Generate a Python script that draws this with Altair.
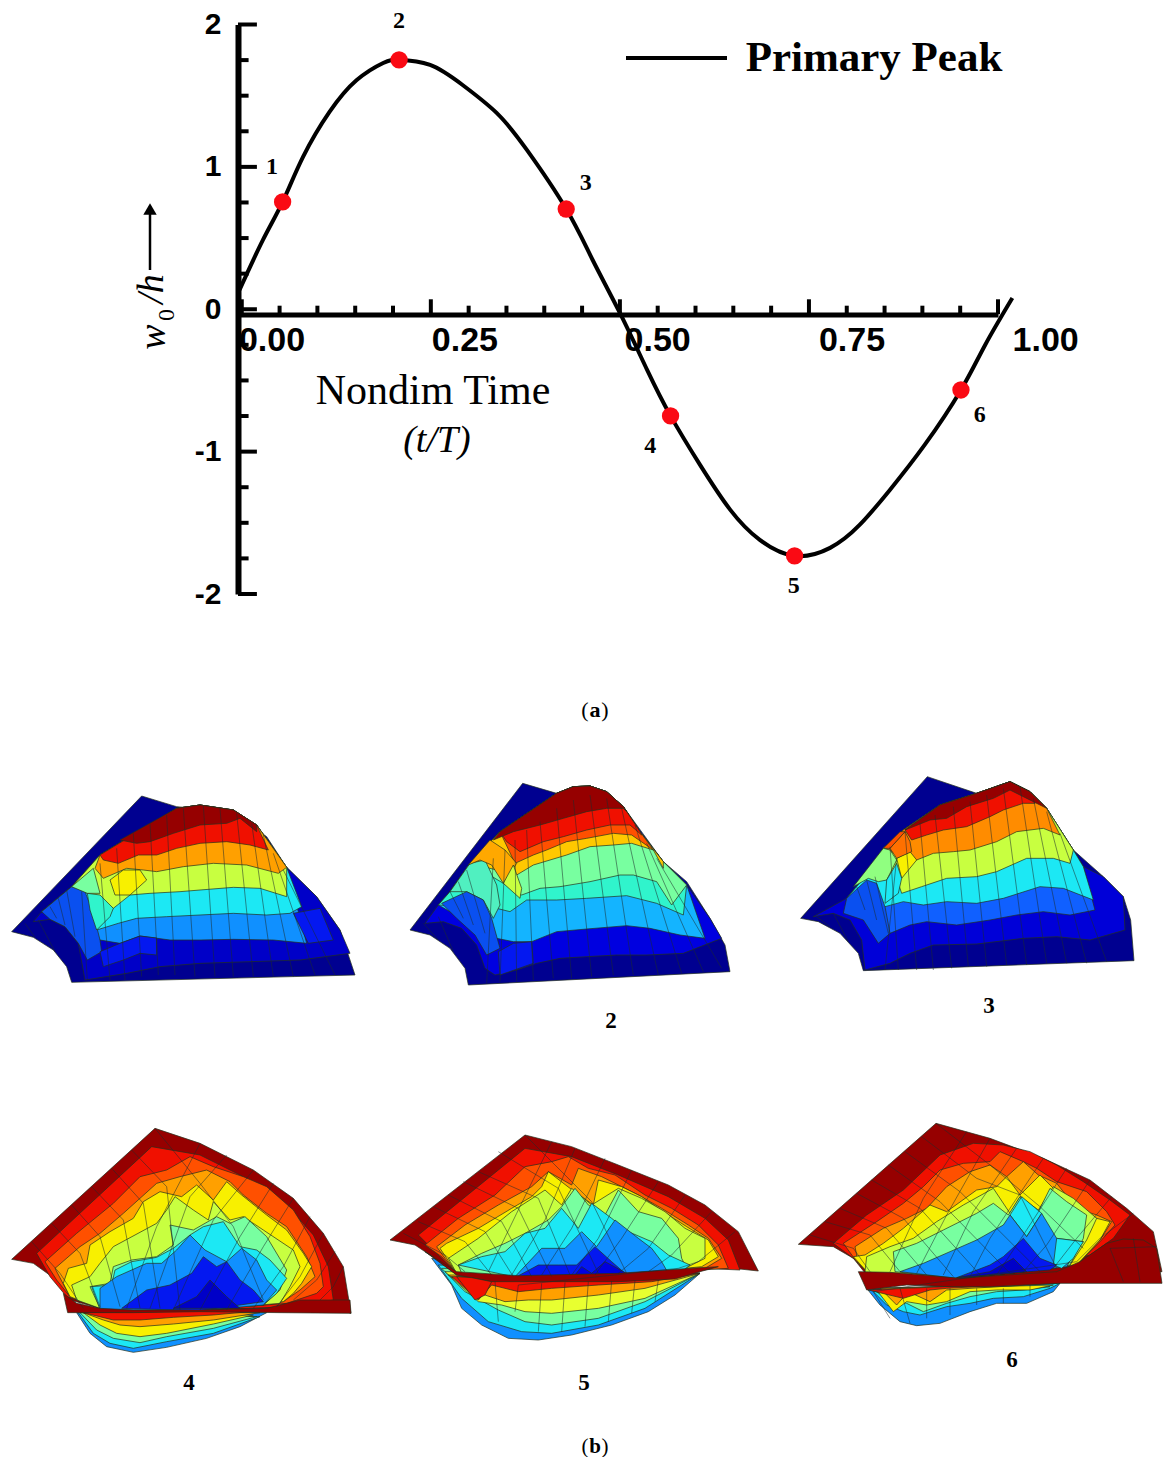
import altair as alt
import pandas as pd

# ---------- line plot values ----------
CURVE_T = [-0.003,0.028,0.054,0.081,0.116,0.152,0.187,0.208,0.249,0.292,0.337,0.377,0.429,0.464,0.5,0.536,0.567,0.606,0.646,0.685,0.731,0.778,0.817,0.857,0.903,0.951,0.983,1.019]
CURVE_W = [0.136,0.487,0.754,1.07,1.386,1.61,1.73,1.751,1.716,1.575,1.379,1.119,0.704,0.346,-0.026,-0.426,-0.749,-1.093,-1.409,-1.62,-1.732,-1.676,-1.515,-1.269,-0.953,-0.567,-0.251,0.079]
MARK_T = [0.054,0.208,0.429,0.567,0.731,0.951]
MARK_W = [0.754,1.751,0.704,-0.749,-1.732,-0.567]
MARK_ID = ["1","2","3","4","5","6"]
ID_T = [0.04,0.208,0.455,0.54,0.73,0.976]
ID_W = [1.0,2.025,0.887,-0.96,-1.943,-0.742]
X_TICKS = [0,0.25,0.5,0.75,1.0]
X_LABEL_TEXT = ["0.00","0.25","0.50","0.75","1.00"]
X_LABEL_T = [0.04,0.295,0.55,0.807,1.063]
X_LABEL_W = [-0.223,-0.223,-0.223,-0.223,-0.223]
X_MINOR = [0.05,0.1,0.15,0.2,0.3,0.35,0.4,0.45,0.55,0.6,0.65,0.7,0.8,0.85,0.9,0.95]
Y_LABELS = [-2,-1,0,1,2]
Y_MINOR = [-1.75,-1.5,-1.25,-0.75,-0.5,-0.25,0.25,0.5,0.75,1.25,1.5,1.75]

# ---------- surface colours ----------
NV,DB,B,A,C,T,G,L,Y,O,OR,R,DR = "#000090","#0000c8","#0418f0","#1090ff","#1ce8f4","#30f4cc","#78ffa0","#c8ff40","#f8f000","#ffa000","#ff5000","#f01000","#960000"

# surfaces are read in 3x crop units; the crop origin is given per panel
P1 = dict(origin=(0,780),
 sil=[35,455,425,48,530,80,700,95,800,170,860,262,950,350,1020,450,1065,585,215,607,200,560,160,510,100,472],
 ridge=[860,262,770,135,700,90,600,75,530,85,300,225,215,320,125,395],
 under=[(DB,[860,262,950,350,1020,450,1050,520,900,540,750,545,600,550,480,560,380,580,255,600,235,490,195,440,150,418,100,425,125,395,215,320,300,225,530,85,600,75,700,90,770,135])],
 bands=[(A,[300,480,360,490,420,468,510,480,600,480,700,478,820,480,920,490]),
  (C,[290,450,355,430,410,415,500,410,600,405,700,400,800,405,870,400,905,380]),
  (L,[262,340,340,385,390,345,450,340,540,335,600,330,700,322,780,325,860,350]),
  (O,[285,265,310,295,380,265,430,270,470,275,550,260,640,250,740,255,835,280]),
  (R,[310,240,355,250,415,225,470,225,530,205,600,190,680,185,750,195,805,210]),
  (DR,[360,180,410,190,450,185,520,160,600,135,680,130,720,115,770,155])],
 patches=[("#0a50f0",[125,395,215,320,255,335,280,400,300,480,305,515,262,540,235,490,195,440,150,418]),
  (Y,[330,300,345,345,390,345,440,300,420,270,370,270]),
  (T,[262,340,300,345,340,385,330,410,290,450,270,390]),
  (G,[215,320,280,265,300,340,262,340]),
  (B,[300,515,360,490,420,468,470,474,470,525,420,520,370,540,310,560]),
  (B,[880,400,960,385,1000,480,925,490])],
 mesh=[245,335,262,600, 300,250,330,600, 350,205,375,600, 400,160,425,590, 450,130,475,585, 500,105,525,585, 550,85,585,590,
  610,78,645,590, 660,85,700,590, 710,100,760,590, 755,130,820,590, 790,165,880,590, 820,220,945,585, 850,270,1005,585],
 wall=[150,380,170,415, 175,355,195,435, 200,330,225,470, 75,430,105,472, 115,420,165,515])

P2 = dict(origin=(400,775),
 sil=[30,465,368,25,470,55,520,35,570,33,620,50,670,95,720,170,790,260,860,320,930,430,975,510,990,590,205,630,195,580,150,520,90,480],
 ridge=[860,330,790,260,720,170,670,95,620,50,570,33,520,35,470,55,300,170,210,265,150,350,115,390],
 under=[("#0000e0",[860,330,930,430,965,490,850,535,740,540,650,540,560,545,480,550,410,565,350,585,285,600,255,580,230,510,185,460,130,440,75,445,115,390,150,350,210,265,300,170,470,55,570,33,670,95,790,260])],
 bands=[("#14b4ff",[290,490,340,500,395,500,470,470,560,462,680,452,750,460,840,480,915,490]),
  (T,[290,400,330,410,380,375,470,375,560,370,680,362,770,385,850,420]),
  (G,[310,325,365,360,420,340,480,335,570,320,660,300,700,300,770,320,815,390]),
  ("#ffc800",[350,300,400,270,450,255,500,240,570,215,640,210,695,205,760,225,790,280]),
  (OR,[345,265,400,240,440,225,500,200,560,190,640,175,695,180,760,225]),
  (R,[320,200,360,230,430,200,490,185,560,165,630,150,690,150,725,180]),
  (DR,[280,195,340,170,420,150,490,130,560,110,620,100,670,100,680,110])],
 patches=[("#50f0c0",[150,350,210,265,255,255,290,330,300,390,280,430,250,375,200,350]),
  ("#ffa800",[205,270,270,195,315,225,350,265,310,325,275,270,240,255]),
  (L,[310,325,340,270,365,340,360,370]),
  ("#0a50f0",[125,385,200,350,250,375,275,430,300,520,260,540,225,480,170,430]),
  (B,[295,530,340,505,395,500,400,565,300,600])],
 mesh=[420,140,460,610, 470,100,515,610, 520,75,575,605, 570,60,640,600, 620,70,700,600, 665,100,775,600, 705,150,845,595, 740,205,910,590, 770,250,965,580,
  380,165,400,615, 345,195,350,620, 315,225,300,620, 280,250,260,625],
 wall=[150,350,190,430, 175,320,220,450, 200,285,255,475, 70,445,115,495, 115,425,160,530])

P3 = dict(origin=(790,770),
 sil=[32,445,412,20,560,70,660,35,720,65,770,115,850,240,940,320,1000,380,1022,450,1032,572,220,602,205,550,150,490,85,455],
 ridge=[880,290,850,240,770,115,720,65,660,35,560,70,450,105,340,180,280,235,225,320,170,385],
 under=[("#0000d8",[880,290,940,320,1000,380,1005,480,900,510,800,500,700,505,560,522,430,525,360,550,300,580,225,600,215,510,180,450,130,430,70,440,170,385,225,320,280,235,340,180,450,105,560,70,660,35,720,65,770,115,850,240])],
 bands=[("#1060ff",[285,465,300,490,360,465,410,455,500,465,600,450,680,435,760,425,840,435,915,420]),
  (C,[285,410,340,395,400,405,470,395,560,400,640,385,750,350,820,355,910,390]),
  (L,[320,325,335,370,395,350,470,325,560,320,620,305,710,265,790,265,840,280]),
  ("#ff8c00",[365,270,380,270,430,250,490,245,540,240,620,215,680,185,760,175,810,195]),
  (R,[345,180,365,210,410,195,460,180,530,170,600,140,640,120,700,100,735,100]),
  (DR,[345,180,420,150,470,145,530,110,610,85,660,60,730,95,770,115])],
 patches=[(Y,[320,265,360,245,380,270,335,325]),
  ("#ff7000",[300,235,345,185,360,215,365,245,320,265]),
  (OR,[280,235,330,185,345,185,300,235]),
  ("#90ff80",[190,350,280,235,300,240,320,270,290,330,265,335,235,325]),
  ("#1ce8f4",[285,400,290,330,320,280,335,325,325,370]),
  ("#0a50f0",[170,385,230,330,260,340,285,410,300,490,265,520,220,450,160,430])],
 mesh=[345,185,380,600, 390,160,430,600, 435,135,485,595, 490,110,535,590, 540,95,590,590, 590,75,650,585, 640,55,710,585, 690,50,770,580, 730,85,830,580, 770,125,890,580, 810,190,950,575,
  300,230,325,600, 320,265,285,600],
 wall=[200,350,225,420, 230,330,260,450, 255,320,295,490, 80,440,120,470, 130,430,175,515])

P4 = dict(origin=(0,1120),
 layers=[(A,[230,578,270,640,320,680,400,697,500,682,620,655,720,620,800,578]),
  (C,[235,578,280,640,330,670,400,685,500,665,640,640,780,590]),
  (G,[240,578,290,630,340,655,420,668,500,650,640,625,770,590]),
  (Y,[250,578,300,615,350,640,420,650,500,640,640,612,760,585]),
  (O,[250,578,310,600,360,615,420,620,520,612,640,600,780,578]),
  (R,[250,578,340,600,420,600,520,592,640,585,800,570]),
  (DR,[35,418,465,25,600,70,760,150,880,235,970,340,1030,440,1053,580,930,540,840,565,600,570,400,570,300,565,210,540,170,480,100,430]),
  (R,[110,400,455,80,600,105,720,165,860,255,940,345,985,440,1000,540,880,560,600,570,300,565,200,530,150,470]),
  (OR,[135,425,230,340,340,250,420,170,500,150,570,110,640,140,730,170,800,200,880,270,930,350,960,430,970,500,950,520,860,550,600,570,300,565,210,530,170,480]),
  (O,[165,445,240,380,300,340,370,280,470,190,540,170,620,150,690,185,730,225,800,280,860,320,920,410,945,470,900,510,850,545,600,570,300,565,210,530]),
  (Y,[190,490,205,445,260,430,270,375,330,335,400,295,430,245,480,215,545,230,590,195,640,240,680,185,725,225,800,285,860,330,910,400,935,440,905,490,880,520,850,545,600,570,300,565,210,530]),
  (L,[215,495,270,470,300,430,340,380,405,345,470,310,500,270,525,230,580,270,625,300,640,245,690,300,730,290,790,330,880,390,900,440,870,500,840,550,600,570,300,565,230,540]),
  (G,[270,500,330,490,340,440,395,420,470,410,520,375,510,315,580,330,650,290,690,310,735,290,800,350,860,450,840,510,790,555,600,570,300,565]),
  (C,[275,500,335,495,345,450,395,425,470,412,520,385,570,345,610,320,670,305,720,380,770,390,810,420,860,475,830,520,790,555,300,568]),
  (A,[300,505,350,470,440,430,485,430,530,390,570,345,615,390,680,425,725,385,770,420,800,480,830,510,790,555,600,572,300,570]),
  (B,[365,565,440,510,510,495,575,460,610,410,650,440,680,425,720,480,760,510,790,545,600,572]),
  (DB,[520,565,590,530,630,480,680,530,720,565]),
  (DR,[190,520,230,550,300,565,400,570,600,570,800,565,900,540,1000,540,1050,540,1053,580,840,578,600,575,400,578,203,578])],
 mesh=[95,365,180,460,250,565, 155,310,240,400,300,560, 215,255,300,350,360,560, 275,200,370,300,420,565, 335,145,430,250,480,565, 395,90,500,200,540,570, 465,25,600,190,700,320,790,540,
  600,70,470,320,380,565, 680,105,570,230,450,565, 760,150,640,300,520,570, 820,190,720,350,600,570, 880,235,790,380,680,570, 930,290,850,440,760,565, 970,340,900,470,830,560, 1005,395,950,480,880,540, 1030,440,1000,500,960,540])

P5 = dict(origin=(385,1125),
 layers=[(A,[140,400,200,480,230,550,290,600,370,640,460,645,560,630,680,600,790,560,870,510,945,445]),
  (C,[160,420,230,520,310,590,410,620,500,625,640,600,780,550,945,445]),
  (G,[170,430,240,500,340,555,420,590,500,600,640,580,780,530,945,445]),
  ("#e8ff30",[180,440,280,530,350,540,420,560,500,565,640,550,780,520,945,445]),
  (O,[190,450,300,510,360,530,430,525,500,525,640,510,780,490,945,445]),
  (R,[200,455,280,525,320,480,400,500,500,490,640,480,800,470,945,445]),
  (DR,[15,345,420,30,560,65,700,120,850,180,960,240,1060,320,1120,438,1000,425,945,435,700,450,400,458,215,450,150,400,90,360]),
  (R,[100,330,420,70,560,95,700,150,850,215,960,280,1030,345,1065,435,950,430,700,450,400,458,215,445,160,390]),
  (OR,[120,360,220,280,330,210,420,125,500,110,550,95,610,130,690,150,780,210,860,250,940,300,1000,360,1030,430,700,450,400,458,215,445,170,395]),
  (O,[155,365,240,300,340,240,440,185,490,140,560,180,580,130,650,155,710,185,760,210,830,250,910,300,970,340,1010,400,960,430,700,450,400,458,215,445,180,400]),
  (Y,[165,370,185,355,280,310,380,250,440,215,470,185,490,140,555,190,625,240,640,165,710,185,770,215,835,260,905,305,970,345,1000,395,950,425,700,450,400,458,215,445]),
  (L,[190,400,280,340,380,260,450,215,480,195,530,240,560,190,620,240,700,190,770,220,840,260,900,310,960,340,960,400,900,430,700,450,400,458,215,445]),
  (G,[220,420,290,385,360,355,420,325,490,285,530,245,570,190,610,240,660,270,700,195,760,260,830,280,880,340,890,400,900,420,700,450,400,458,230,445]),
  (C,[220,420,290,395,360,380,420,325,480,310,530,250,580,310,620,235,680,280,730,320,800,350,850,390,915,420,890,440,400,458]),
  (A,[390,455,470,370,540,370,590,320,635,365,690,285,760,340,800,370,830,410,850,445,400,458]),
  (B,[395,455,460,420,520,420,575,420,630,365,680,410,720,445]),
  ("#0000e0",[570,450,590,425,620,445,660,410,730,448]),
  (DR,[120,380,215,440,400,452,700,445,945,428,1000,425,945,440,870,462,700,470,450,470,320,470,215,450]),
  (R,[215,455,270,525,300,510,320,470,260,458])],
 mesh=[55,325,180,390,240,440, 100,290,240,350,320,450, 145,245,300,320,385,455, 190,210,350,290,440,455, 235,170,400,250,500,455, 280,140,460,220,555,450, 340,80,520,190,640,445, 420,30,620,230,725,445,
  500,50,395,265,310,440, 570,70,480,285,380,450, 660,100,560,310,470,450, 740,135,640,340,560,450, 820,170,710,340,630,450, 900,210,790,370,700,445, 980,260,860,390,790,440, 1050,320,940,410,880,430,
  400,480,390,560, 470,475,460,620, 540,472,530,620, 610,470,600,605, 680,468,670,590, 750,465,740,565, 820,465,810,530, 330,470,340,590])

P6 = dict(origin=(790,1115),
 layers=[(A,[230,520,270,570,330,620,380,632,450,625,540,590,620,565,710,565,790,530,810,505]),
  (C,[245,525,290,570,340,590,390,600,470,575,540,565,610,550,700,545,780,520,810,505]),
  (G,[250,525,300,555,350,565,400,590,470,565,540,545,620,530,700,525,780,515]),
  (Y,[260,525,310,590,350,560,410,570,470,560,540,530,620,525,720,525,790,510]),
  (O,[270,520,320,570,355,530,420,560,470,525,540,520,800,505]),
  (R,[235,525,340,550,420,525,470,520,560,515,800,500]),
  (DR,[25,388,438,25,600,70,760,130,900,195,1010,280,1090,350,1116,470,810,500,500,500,230,480,190,430,130,395]),
  (R,[130,385,230,300,340,225,450,120,550,85,640,90,720,110,800,150,880,200,960,255,1020,300,970,370,900,420,700,470,500,490,240,480,190,430]),
  (OR,[160,385,260,320,340,265,400,215,450,165,520,145,600,140,630,110,700,140,740,160,800,200,890,230,950,290,975,330,930,380,860,450,700,470,500,490,240,480,200,440]),
  (O,[195,395,280,340,350,310,410,280,470,215,540,170,600,150,650,185,700,140,745,180,800,205,860,280,920,300,965,320,930,375,860,450,700,470,500,490,240,480,205,445]),
  (Y,[190,425,225,420,280,385,340,340,420,270,470,290,560,225,620,215,650,185,690,240,750,180,790,220,860,270,920,310,960,320,930,375,860,450,700,470,500,490,240,480]),
  (L,[225,470,230,425,300,395,370,370,440,320,520,270,610,220,660,295,690,245,745,285,790,215,850,250,920,310,890,375,840,450,700,470,500,490,240,480]),
  (G,[315,470,310,410,380,385,460,345,560,295,610,265,655,300,690,245,745,290,780,220,830,260,890,300,880,370,840,450,700,470,500,490]),
  (C,[660,300,695,245,755,295,710,365]),
  (A,[330,470,400,445,480,410,560,375,640,330,660,300,710,365,755,295,800,370,880,380,850,420,830,455,700,470,500,490]),
  (C,[800,370,880,380,850,430,815,460,790,450]),
  (B,[500,488,600,450,640,425,700,370,750,430,800,450,780,465]),
  (DB,[500,488,600,470,670,430,710,470]),
  (DR,[205,470,300,472,400,480,510,490,650,480,800,470,870,440,950,385,1000,372,1060,375,1100,400,1116,505,810,505,600,515,480,515,350,510,230,525])],
 mesh=[60,360,190,400,240,470, 105,320,240,360,330,470, 150,280,290,340,410,480, 200,235,340,310,490,485, 245,195,390,280,575,485, 295,150,450,260,660,475, 345,110,510,230,750,470, 395,65,560,190,690,240,800,460, 438,25,600,150,750,275,880,400,
  530,50,400,250,300,470, 600,70,470,300,380,475, 680,100,550,290,460,480, 760,130,600,370,540,485, 830,160,700,360,620,480, 900,195,770,390,700,470, 965,245,860,370,790,460, 1030,295,930,370,860,440,
  250,530,300,610, 330,520,360,625, 410,520,410,610, 480,520,480,600, 560,520,560,570, 640,520,640,565, 720,510,720,545,
  860,450,1112,440, 900,420,1100,395, 960,400,1000,500, 1030,370,1050,500])

ROW1_X = [(8,393),(393,778),(778,1163)]
ROW2_X = [(8,388),(388,778),(778,1163)]
ROW1_Y, ROW2_Y = (770,1110), (1110,1457)

SERIF, SANS = "Liberation Serif", "Liberation Sans"
AX_Y = -0.035   # x axis line sits just below w0/h = 0
px = lambda v: v - 8

def ann(text, x, y, size, font=SERIF, weight="normal", style="normal", angle=0, color="#000000", ox=8, oy=8):
    return alt.Chart(pd.DataFrame({"t":[text]})).mark_text(font=font, fontSize=size, fontWeight=weight, fontStyle=style, angle=angle, color=color, baseline="middle", align="center").encode(
        text="t:N", x=alt.value(x-ox), y=alt.value(y-oy))

x_scale = alt.Scale(domain=[-0.005,1.0], range=[230,990], nice=False, zero=False)
y_scale = alt.Scale(domain=[-2,2], range=[586,16.5], nice=False, zero=False)
X = lambda f, **k: alt.X(f, type="quantitative", scale=x_scale, **k)
Y = lambda f, **k: alt.Y(f, type="quantitative", scale=y_scale, **k)

curve_df = pd.DataFrame({"t":CURVE_T,"w":CURVE_W})
axes = alt.Chart(curve_df).mark_line(color="#000", strokeWidth=4, interpolate="natural").encode(
    x=X("t", axis=alt.Axis(values=X_TICKS, title=None, grid=False, tickSize=0, domainWidth=5, domainColor="#000", orient="bottom", offset=306.5-762, labels=False)),
    y=Y("w", axis=alt.Axis(values=Y_LABELS, title=None, grid=False, tickSize=0, domainWidth=6, domainColor="#000", offset=-230, labelExpr="toString(datum.value)", labelFont=SANS, labelFontWeight="bold", labelFontSize=30, labelColor="#000", labelPadding=17, labelOverlap=False)))

x_text = alt.Chart(pd.DataFrame({"t":X_LABEL_T,"w":X_LABEL_W,"s":X_LABEL_TEXT})).mark_text(font=SANS, fontWeight="bold", fontSize=34, color="#000").encode(x=X("t"), y=Y("w"), text="s:N")

tick_rows = []
for v in X_MINOR: tick_rows.append(dict(x=v,x2=v,y=AX_Y,y2=AX_Y+0.06))
for v in X_TICKS: tick_rows.append(dict(x=v,x2=v,y=AX_Y,y2=AX_Y+0.105))
for v in Y_MINOR: tick_rows.append(dict(x=-0.005,x2=0.009,y=v,y2=v))
for v in Y_LABELS: tick_rows.append(dict(x=-0.005,x2=0.02,y=v,y2=v))
ticks = alt.Chart(pd.DataFrame(tick_rows)).mark_rule(color="#000", strokeWidth=4).encode(
    x=X("x"), x2="x2:Q", y=Y("y"), y2="y2:Q")
pts = alt.Chart(pd.DataFrame({"t":MARK_T,"w":MARK_W})).mark_circle(color="#fa0a14", size=300, opacity=1).encode(x=X("t"), y=Y("w"))
ids = alt.Chart(pd.DataFrame({"t":ID_T,"w":ID_W,"n":MARK_ID})).mark_text(font=SERIF, fontWeight="bold", fontSize=24, color="#000").encode(x=X("t"), y=Y("w"), text="n:N")
legend_line = alt.Chart(pd.DataFrame({"a":[0]})).mark_rule(color="#000", strokeWidth=4).encode(x=alt.value(px(626)), x2=alt.value(px(727)), y=alt.value(px(58)))
arrow = alt.Chart(pd.DataFrame({"a":[0]})).mark_rule(color="#000", strokeWidth=2.5).encode(x=alt.value(px(150)), y=alt.value(px(213)), y2=alt.value(px(270)))
head = alt.Chart(pd.DataFrame({"a":[0]})).mark_point(shape="triangle-up", filled=True, color="#000", size=180, opacity=1).encode(x=alt.value(px(150)), y=alt.value(px(209)))

top = alt.layer(axes, x_text, ticks, pts, ids, legend_line, arrow, head,
    ann("Primary Peak", 874, 58, 43, weight="bold"),
    ann("Nondim Time", 433, 391, 42),
    ann("(t/T)", 437, 441, 38, style="italic"),
    ann("w", 154, 337, 38, style="italic", angle=270),
    ann("0", 167, 315, 24, angle=270),
    ann("/h", 152, 289, 38, style="italic", angle=270),
    ann("(", 585, 710, 22), ann("a", 595, 710, 22, weight="bold"), ann(")", 605, 710, 22),
).properties(width=1155, height=762)


def poly_rows(points, pid, color):
    xs, ys = points[0::2], points[1::2]
    xs = list(xs)+[xs[0]]; ys = list(ys)+[ys[0]]
    return [dict(poly=pid, i=i, x=a, y=b, c=color) for i,(a,b) in enumerate(zip(xs,ys))]

def closed_band(contour, ridge):
    rx, ry = ridge[0::2], ridge[1::2]
    peak = ry.index(min(ry))
    out = list(contour)
    for j,(a,b) in enumerate(zip(rx,ry)):
        limit = contour[-1] if j <= peak else contour[1]
        if b < limit:
            out += [a,b]
    return out

def surface(p, xr, yr, labels, extra=None):
    ox, oy = p["origin"]
    if "layers" in p:
        polys = list(p["layers"])
    else:
        polys = [(NV, p["sil"])] + list(p["under"])
        for col, cont in p["bands"]:
            polys.append((col, closed_band(cont, p["ridge"])))
        polys += p["patches"]
    rows = []
    for k,(col,pts_) in enumerate(polys):
        rows += poly_rows(pts_, k, col)
    sx = alt.Scale(domain=[(xr[0]-ox)*3,(xr[1]-ox)*3], nice=False, zero=False)
    sy = alt.Scale(domain=[(yr[1]-oy)*3,(yr[0]-oy)*3], nice=False, zero=False)
    fills = alt.Chart(pd.DataFrame(rows)).mark_line(strokeWidth=0.7, stroke="#24301c", strokeJoin="round").encode(
        x=alt.X("x:Q", scale=sx, axis=None), y=alt.Y("y:Q", scale=sy, axis=None),
        detail="poly:N", order="i:Q", fill=alt.Fill("c:N", scale=None))
    mrows = []
    flat = p["mesh"] + p.get("wall", [])
    if "layers" in p:
        line = 0
        pairs = list(zip(flat[0::2], flat[1::2]))
        for n,(a,b) in enumerate(pairs):
            if n and b < pairs[n-1][1]:
                line += 1
            mrows.append(dict(m=line,i=n,x=a,y=b))
    else:
        for n in range(0,len(flat),4):
            mrows.append(dict(m=n,i=0,x=flat[n],y=flat[n+1]))
            mrows.append(dict(m=n,i=1,x=flat[n+2],y=flat[n+3]))
    mesh = alt.Chart(pd.DataFrame(mrows)).mark_line(strokeWidth=0.7, color="#1c2c2c", opacity=0.75).encode(
        x=alt.X("x:Q", scale=sx, axis=None), y=alt.Y("y:Q", scale=sy, axis=None), detail="m:N", order="i:Q")
    parts = [fills, mesh]
    for t,lx,ly in labels:
        parts.append(ann(t, lx, ly, 23, weight="bold", ox=xr[0], oy=yr[0]))
    if extra:
        for t,lx,ly,w in extra:
            parts.append(ann(t, lx, ly, 21, weight=w, ox=xr[0], oy=yr[0]))
    return alt.layer(*parts).properties(width=xr[1]-xr[0], height=yr[1]-yr[0])

row1 = alt.hconcat(
    surface(P1, ROW1_X[0], ROW1_Y, []),
    surface(P2, ROW1_X[1], ROW1_Y, [("2",611,1021)]),
    surface(P3, ROW1_X[2], ROW1_Y, [("3",989,1006)]), spacing=0)
row2 = alt.hconcat(
    surface(P4, ROW2_X[0], ROW2_Y, [("4",189,1383)]),
    surface(P5, ROW2_X[1], ROW2_Y, [("5",584,1383)], extra=[("(",585,1447,"normal"),("b",595,1447,"bold"),(")",605,1447,"normal")]),
    surface(P6, ROW2_X[2], ROW2_Y, [("6",1012,1360)]), spacing=0)

chart = alt.vconcat(top, row1, row2, spacing=0).properties(padding=0).configure_view(stroke=None).configure_concat(spacing=0)
chart.save("out.html", embed_options={"renderer": "svg", "actions": False})
